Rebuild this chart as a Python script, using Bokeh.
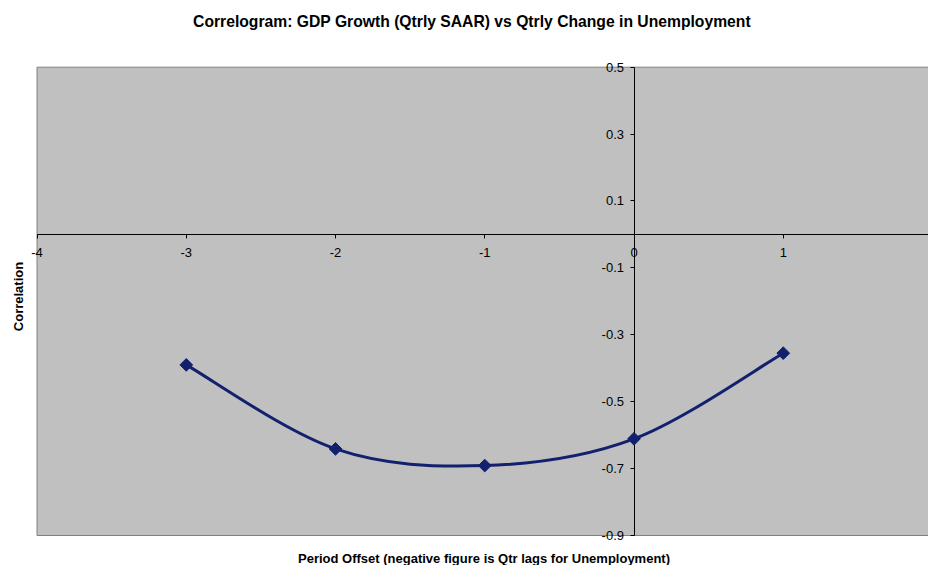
import math
from bokeh.plotting import figure
from bokeh.models import LinearAxis, FixedTicker, Label, Range1d, PrintfTickFormatter
from bokeh.embed import file_html
from bokeh.resources import INLINE

title_text = "Correlogram: GDP Growth (Qtrly SAAR) vs Qtrly Change in Unemployment"
x_title = "Period Offset (negative figure is Qtr lags for Unemployment)"
y_title = "Correlation"
offsets = [-3, -2, -1, 0, 1]
correlation = [-0.390, -0.641, -0.691, -0.611, -0.355]
x_ticks = [-4, -3, -2, -1, 0, 1, 2]
y_ticks = [0.5, 0.3, 0.1, -0.1, -0.3, -0.5, -0.7, -0.9]
x_axis_min, x_axis_max = -4, 2
y_axis_min, y_axis_max = -0.9, 0.5

FONT = "Liberation Sans"
NAVY = "#13206E"
W, H = 928, 565

# frame covers the whole canvas; the grey plot area is drawn inside it
p = figure(width=W, height=H, x_range=Range1d(-4.2446, 1.9732), y_range=Range1d(-0.9897, 0.6994),
           output_backend="svg", toolbar_location=None, x_axis_type=None, y_axis_type=None,
           min_border_left=0, min_border_right=0, min_border_top=0, min_border_bottom=0)
p.background_fill_color = "white"
p.border_fill_color = "white"
p.outline_line_color = None

p.quad(left=[x_axis_min], right=[x_axis_max], bottom=[y_axis_min], top=[y_axis_max],
       fill_color="#C0C0C0", line_color="#808080", line_width=1, level="image")

def style_axis(ax):
    ax.axis_line_color = "black"
    ax.axis_line_width = 1
    ax.major_tick_line_color = "black"
    ax.minor_tick_line_color = None
    ax.major_label_text_font = FONT
    ax.major_label_text_font_size = "13px"
    ax.major_label_text_color = "black"
    ax.level = "underlay"

xaxis = LinearAxis(fixed_location=0, bounds=(x_axis_min, x_axis_max), ticker=FixedTicker(ticks=x_ticks),
                   formatter=PrintfTickFormatter(format="%d"))
style_axis(xaxis)
xaxis.major_tick_in = 0
xaxis.major_tick_out = 4
xaxis.major_label_standoff = 10
p.add_layout(xaxis, "below")

yaxis = LinearAxis(fixed_location=0, bounds=(y_axis_min, y_axis_max), ticker=FixedTicker(ticks=y_ticks),
                   formatter=PrintfTickFormatter(format="%.1f"))
style_axis(yaxis)
yaxis.major_tick_in = 0
yaxis.major_tick_out = 4
yaxis.major_label_standoff = 6
p.add_layout(yaxis, "left")

p.add_layout(Label(x=471.5, y=H - 21, x_units="screen", y_units="screen", text=title_text,
                   text_align="center", text_baseline="middle", text_font=FONT,
                   text_font_size="15.7px", text_font_style="bold", text_color="black"))
p.add_layout(Label(x=483.5, y=H - 558, x_units="screen", y_units="screen", text=x_title,
                   text_align="center", text_baseline="middle", text_font=FONT,
                   text_font_size="13px", text_font_style="bold", text_color="black"))
p.add_layout(Label(x=18, y=H - 296, x_units="screen", y_units="screen", text=y_title, angle=math.pi / 2,
                   text_align="center", text_baseline="middle", text_font=FONT,
                   text_font_size="13px", text_font_style="bold", text_color="black"))

# smoothed line (Excel-style Bezier segments through the data points)
n = len(offsets)
def pt(i):
    i = max(0, min(n - 1, i))
    return offsets[i], correlation[i]
bx0, by0, bx1, by1, bcx0, bcy0, bcx1, bcy1 = [], [], [], [], [], [], [], []
for i in range(n - 1):
    xa, ya = pt(i - 1)
    xb, yb = pt(i)
    xc, yc = pt(i + 1)
    xd, yd = pt(i + 2)
    bx0.append(xb); by0.append(yb); bx1.append(xc); by1.append(yc)
    bcx0.append(xb + (xc - xa) / 6); bcy0.append(yb + (yc - ya) / 6)
    bcx1.append(xc - (xd - xb) / 6); bcy1.append(yc - (yd - yb) / 6)
p.bezier(x0=bx0, y0=by0, x1=bx1, y1=by1, cx0=bcx0, cy0=bcy0, cx1=bcx1, cy1=bcy1,
         line_color=NAVY, line_width=3)
p.scatter(offsets, correlation, marker="square", angle=math.pi / 4, size=9, color=NAVY)

open("out.html", "w").write(file_html(p, INLINE))
